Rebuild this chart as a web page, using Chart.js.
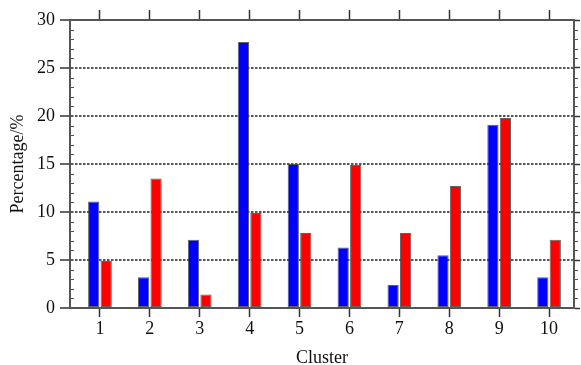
<!DOCTYPE html>
<html>
<head>
<meta charset="utf-8">
<script src="https://cdn.jsdelivr.net/npm/chart.js@4/dist/chart.umd.min.js"></script>
<style>
  html, body { margin: 0; padding: 0; background: #fff; }
  canvas { display: block; }
</style>
</head>
<body>
<canvas id="c" width="581" height="365"></canvas>
<script>
// ---- data ----
const clusters = [1, 2, 3, 4, 5, 6, 7, 8, 9, 10];
const blueValues = [11.1, 3.2, 7.1, 27.7, 15.0, 6.3, 2.4, 5.5, 19.1, 3.2];
const redValues = [4.9, 13.5, 1.4, 9.9, 7.8, 14.9, 7.8, 12.7, 19.8, 7.1];
const yTickValues = [0, 5, 10, 15, 20, 25, 30];
const xTitle = 'Cluster';
const yTitle = 'Percentage/%';

const FONT = 'Liberation Serif';
const AXIS = '#555';

function keepClusterTicks(scale) {
  scale.ticks = clusters.map(v => ({ value: v }));
}

const minorTicks = {
  id: 'minorTicks',
  afterDraw(chart) {
    const ctx = chart.ctx;
    const y = chart.scales.y;
    const area = chart.chartArea;
    ctx.save();
    ctx.strokeStyle = AXIS;
    ctx.lineWidth = 1;
    for (let v = 1; v < 30; v++) {
      if (v % 5 === 0) continue;
      const py = Math.round(y.getPixelForValue(v)) + 0.5;
      ctx.beginPath();
      ctx.moveTo(area.left, py);
      ctx.lineTo(area.left + 4, py);
      ctx.moveTo(area.right, py);
      ctx.lineTo(area.right + 4, py);
      ctx.stroke();
    }
    ctx.restore();
  }
};

new Chart(document.getElementById('c'), {
  type: 'bar',
  data: {
    datasets: [
      {
        data: clusters.map((c, i) => ({ x: c, y: blueValues[i] })),
        backgroundColor: '#0000ff',
        borderColor: 'rgba(70,70,70,0.85)',
        borderWidth: 1,
        borderSkipped: false,
        categoryPercentage: 0.5,
        barPercentage: 0.9
      },
      {
        data: clusters.map((c, i) => ({ x: c, y: redValues[i] })),
        backgroundColor: '#ff0000',
        borderColor: 'rgba(70,70,70,0.85)',
        borderWidth: 1,
        borderSkipped: false,
        categoryPercentage: 0.5,
        barPercentage: 0.9
      }
    ]
  },
  options: {
    responsive: false,
    animation: false,
    devicePixelRatio: 1,
    layout: { padding: 0 },
    plugins: { legend: { display: false }, tooltip: { enabled: false } },
    scales: {
      x: {
        type: 'linear',
        position: 'bottom',
        min: 0.4,
        max: 10.5,
        offset: false,
        afterBuildTicks: keepClusterTicks,
        afterFit: s => { s.height = 57; },
        grid: {
          offset: false,
          drawOnChartArea: false,
          drawTicks: true,
          tickLength: 9,
          tickColor: '#333',
          tickWidth: 1.5
        },
        border: { color: AXIS, width: 2 },
        ticks: {
          padding: 1,
          color: '#111',
          font: { family: FONT, size: 18 },
          callback: v => String(v)
        },
        title: {
          display: true,
          text: xTitle,
          color: '#111',
          font: { family: FONT, size: 18, lineHeight: 0.8 },
          padding: { top: 0, bottom: 0 }
        }
      },
      x2: {
        type: 'linear',
        position: 'top',
        min: 0.4,
        max: 10.5,
        offset: false,
        afterBuildTicks: keepClusterTicks,
        afterFit: s => { s.height = 20; },
        grid: {
          offset: false,
          drawOnChartArea: false,
          drawTicks: true,
          tickLength: 10,
          tickColor: '#333',
          tickWidth: 1.5
        },
        border: { color: AXIS, width: 2 },
        ticks: { display: false }
      },
      y: {
        position: 'left',
        min: 0,
        max: 30,
        afterBuildTicks: s => { s.ticks = yTickValues.map(v => ({ value: v })); },
        afterFit: s => { s.width = 70; },
        grid: {
          drawOnChartArea: true,
          drawTicks: true,
          tickLength: 10,
          tickColor: '#333',
          tickWidth: 1.5,
          lineWidth: 2,
          color: ctx => (ctx.tick && (ctx.tick.value === 0 || ctx.tick.value === 30)) ? 'rgba(0,0,0,0)' : '#555'
        },
        border: { color: AXIS, width: 2, dash: [2.5, 1.5] },
        ticks: {
          padding: 5,
          color: '#111',
          font: { family: FONT, size: 18 }
        },
        title: {
          display: true,
          text: yTitle,
          color: '#111',
          font: { family: FONT, size: 18, lineHeight: 1 },
          padding: { top: 9, bottom: 0 }
        }
      },
      y2: {
        position: 'right',
        min: 0,
        max: 30,
        afterBuildTicks: s => { s.ticks = yTickValues.map(v => ({ value: v })); },
        afterFit: s => { s.width = 7; },
        grid: {
          drawOnChartArea: false,
          drawTicks: true,
          tickLength: 6,
          tickColor: '#333',
          tickWidth: 1.5
        },
        border: { color: AXIS, width: 2 },
        ticks: { display: false }
      }
    }
  },
  plugins: [minorTicks]
});
</script>
</body>
</html>
